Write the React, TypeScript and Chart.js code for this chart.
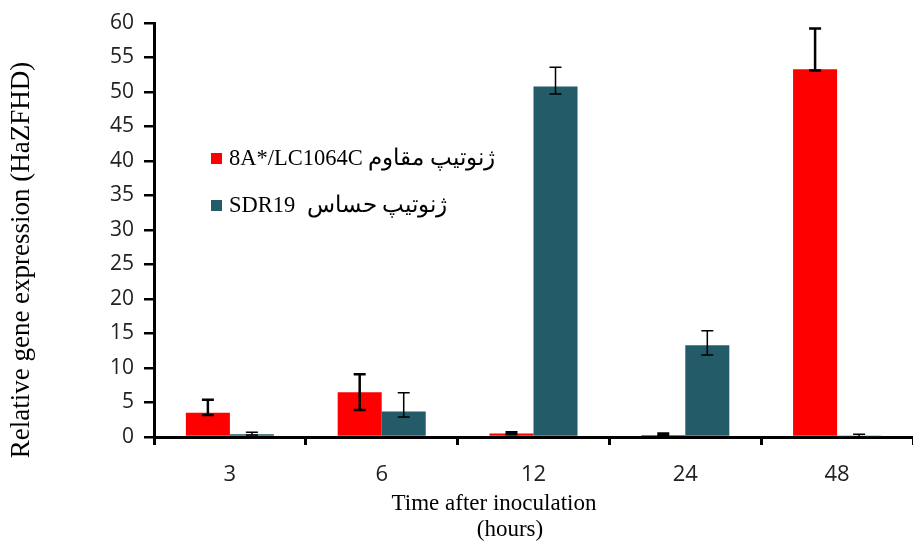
import React, { useEffect, useRef } from "react";
import { Chart, registerables } from "chart.js";

Chart.register(...registerables);

const categories = ["3", "6", "12", "24", "48"];
const resistantLabel = "8A*/LC1064C ژنوتیپ مقاوم";
const susceptibleLabel = "SDR19  ژنوتیپ حساس";
const resistant = [3.5, 6.5, 0.5, 0.3, 53.3];
const resistantErrUp = [1.9, 2.6, 0.2, 0.2, 5.9];
const resistantErrDown = [0.3, 2.6, 0.1, 0.1, 0.2];
const susceptible = [0.4, 3.7, 50.8, 13.3, 0.1];
const susceptibleErrUp = [0.3, 2.7, 2.8, 2.1, 0.3];
const susceptibleErrDown = [0.1, 0.8, 1.1, 1.4, 0.1];
const yTitle = "Relative gene expression (HaZFHD)";
const xTitle1 = "Time after inoculation";
const xTitle2 = "(hours)";

const RED = "#FF0000";
const TEAL = "#235B69";

const errorBarPlugin = {
  id: "errorBars",
  afterDatasetsDraw(chart: any) {
    const ctx = chart.ctx;
    const yScale = chart.scales.y;
    chart.data.datasets.forEach((ds: any, di: number) => {
      const meta = chart.getDatasetMeta(di);
      meta.data.forEach((bar: any, i: number) => {
        const v = ds.data[i];
        const up = ds.errUp[i];
        const down = ds.errDown[i];
        const yTop = yScale.getPixelForValue(v + up);
        const yBot = yScale.getPixelForValue(v - down);
        const x = bar.x;
        ctx.save();
        ctx.strokeStyle = "#000";
        ctx.lineWidth = ds.errWidth;
        ctx.beginPath();
        ctx.moveTo(x, yTop);
        ctx.lineTo(x, yBot);
        ctx.moveTo(x - 6, yTop);
        ctx.lineTo(x + 6, yTop);
        ctx.moveTo(x - 6, yBot);
        ctx.lineTo(x + 6, yBot);
        ctx.stroke();
        ctx.restore();
      });
    });
  },
};

const decorPlugin = {
  id: "decor",
  afterDraw(chart: any) {
    const ctx = chart.ctx;
    const area = chart.chartArea;
    ctx.save();
    ctx.fillStyle = "#000";
    // y title
    ctx.font = "27px 'Liberation Serif', 'Times New Roman', serif";
    ctx.textAlign = "center";
    ctx.textBaseline = "middle";
    ctx.save();
    ctx.translate(22, (area.top + area.bottom) / 2 + 30);
    ctx.rotate(-Math.PI / 2);
    ctx.fillText(yTitle, 0, 0);
    ctx.restore();
    // x title
    ctx.font = "23px 'Liberation Serif', 'Times New Roman', serif";
    ctx.textBaseline = "alphabetic";
    ctx.fillText(xTitle1, 494, 510);
    ctx.fillText(xTitle2, 510, 536);
    // legend
    const items = [
      { label: resistantLabel, color: RED },
      { label: susceptibleLabel, color: TEAL },
    ];
    ctx.font = "22.5px 'Liberation Serif', 'Times New Roman', serif";
    ctx.textAlign = "left";
    items.forEach((it, k) => {
      const y = 158 + k * 47;
      ctx.fillStyle = it.color;
      ctx.fillRect(area.left + 57, y - 5, 11, 11);
      ctx.fillStyle = "#000";
      ctx.textBaseline = "middle";
      ctx.fillText(it.label, area.left + 75, y + 1);
    });
    ctx.restore();
  },
};

export default function App() {
  const ref = useRef<HTMLCanvasElement | null>(null);
  useEffect(() => {
    if (!ref.current) return;
    const chart = new Chart(ref.current, {
      type: "bar",
      data: {
        labels: categories,
        datasets: [
          {
            label: resistantLabel,
            data: resistant,
            backgroundColor: RED,
            errUp: resistantErrUp,
            errDown: resistantErrDown,
            errWidth: 2.5,
            categoryPercentage: 0.58,
            barPercentage: 1,
          } as any,
          {
            label: susceptibleLabel,
            data: susceptible,
            backgroundColor: TEAL,
            errUp: susceptibleErrUp,
            errDown: susceptibleErrDown,
            errWidth: 1.5,
            categoryPercentage: 0.58,
            barPercentage: 1,
          } as any,
        ],
      },
      options: {
        responsive: false,
        animation: false,
        layout: { padding: { left: 0, right: 0, top: 23, bottom: 0 } },
        plugins: {
          legend: { display: false },
          tooltip: { enabled: false },
        },
        scales: {
          x: {
            offset: true,
            grid: {
              offset: true,
              drawOnChartArea: false,
              drawTicks: true,
              tickLength: 8,
              color: "#000",
              lineWidth: 3,
            },
            border: { display: true, color: "#000", width: 3 },
            ticks: {
              color: "#222",
              padding: 17,
              font: { family: "'Open Sans', sans-serif", size: 22 },
            },
            afterFit(scale: any) {
              scale.height = 104;
            },
          },
          y: {
            min: 0,
            max: 60,
            ticks: {
              stepSize: 5,
              color: "#222",
              padding: 10,
              font: { family: "'Open Sans', sans-serif", size: 21 },
            },
            grid: {
              drawOnChartArea: false,
              drawTicks: true,
              tickLength: 10,
              color: "#000",
              lineWidth: 2.5,
            },
            border: { display: true, color: "#000", width: 3 },
            afterFit(scale: any) {
              scale.width = 154;
            },
          },
        },
      },
      plugins: [errorBarPlugin, decorPlugin],
    } as any);
    return () => chart.destroy();
  }, []);
  return (
    <div style={{ position: "fixed", left: 0, top: 0, width: 913, height: 541, background: "#fff" }}>
      <canvas ref={ref} width={913} height={541} />
    </div>
  );
}
